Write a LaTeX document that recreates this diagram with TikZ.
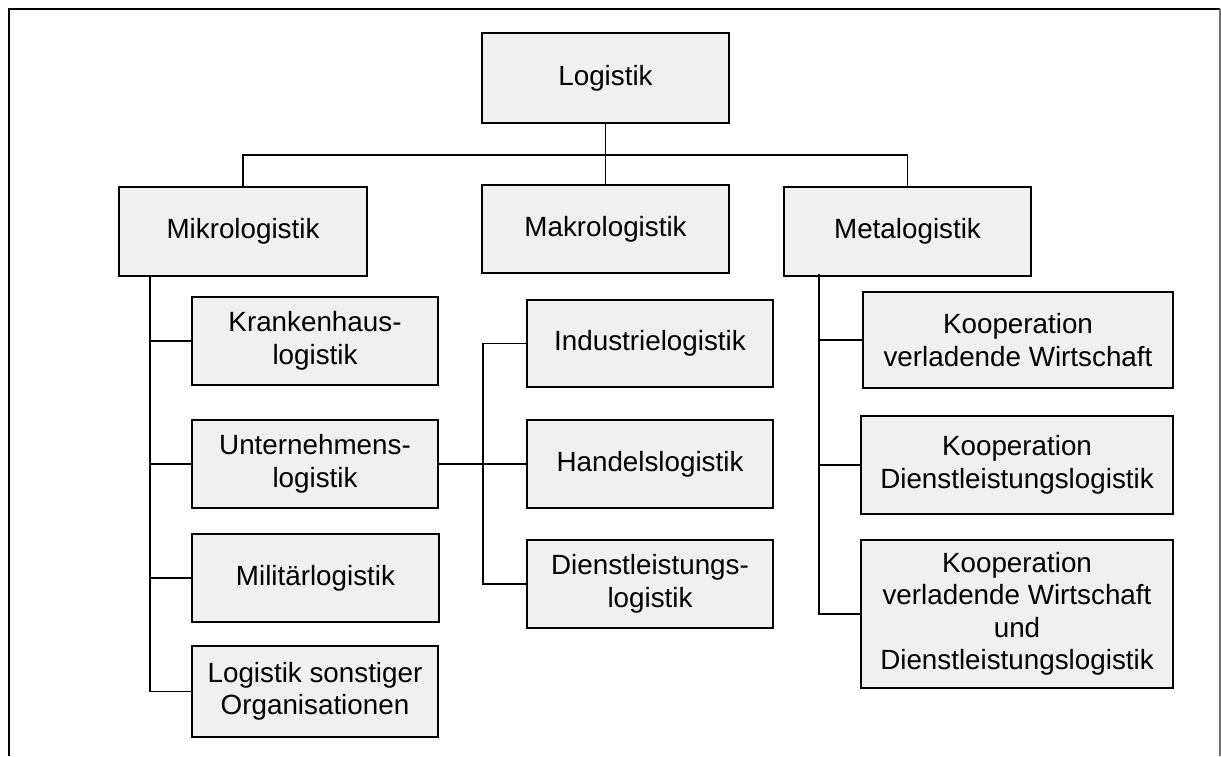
\documentclass[tikz,border=0pt]{standalone}
\usepackage{fontspec}
\setmainfont{Liberation Sans}
\definecolor{boxfill}{RGB}{240,240,240}
\definecolor{frameright}{RGB}{110,110,110}
\tikzset{
  unit/.style={draw=black, fill=boxfill, line width=1.5pt, inner sep=0pt,
    align=center, font=\fontsize{27.8}{32.5}\selectfont},
  link/.style={draw=black, line width=1.4pt}
}
\begin{document}
\begin{tikzpicture}[x=1pt, y=-1pt]
\useasboundingbox (0,0) rectangle (1221,756);

% outer frame
\draw[line width=2.2pt] (9,756) -- (9,9) -- (1220,9);
\draw[frameright, line width=1.2pt] (1220,9) -- (1220,756);

% top level
\node[unit, minimum width=247pt, minimum height=90pt] (log) at (605.5,78) {Logistik};

% second level
\node[unit, minimum width=248pt, minimum height=89pt] (mikro) at (243,231.5) {Mikrologistik};
\node[unit, minimum width=247pt, minimum height=88pt] (makro) at (605.5,229) {Makrologistik};
\node[unit, minimum width=247pt, minimum height=89pt] (meta) at (907.5,231.5) {Metalogistik};

% Mikrologistik branch
\node[unit, minimum width=246pt, minimum height=88pt] (kh) at (315,341) {Krankenhaus-\\logistik};
\node[unit, minimum width=246pt, minimum height=88pt] (unt) at (315,464) {Unternehmens-\\logistik};
\node[unit, minimum width=247pt, minimum height=88pt] (mil) at (315.5,578) {Militärlogistik};
\node[unit, minimum width=246pt, minimum height=91pt] (sonst) at (315,691.5) {Logistik sonstiger\\Organisationen};

% Unternehmenslogistik branch
\node[unit, minimum width=246pt, minimum height=87pt] (ind) at (650,343.5) {Industrielogistik};
\node[unit, minimum width=246pt, minimum height=88pt] (han) at (650,464) {Handelslogistik};
\node[unit, minimum width=246pt, minimum height=88pt] (dien) at (650,584) {Dienstleistungs-\\logistik};

% Metalogistik branch
\node[unit, minimum width=310pt, minimum height=96pt] (kv) at (1018,340) {Kooperation\\verladende Wirtschaft};
\node[unit, minimum width=312pt, minimum height=98pt] (kd) at (1017,465) {Kooperation\\Dienstleistungslogistik};
\node[unit, minimum width=312pt, minimum height=148pt] (kvd) at (1017,614) {Kooperation\\verladende Wirtschaft\\und\\Dienstleistungslogistik};

% connectors: top level to second level
\coordinate (bus) at (605.5,155);
\draw[link] (log.south) -- (bus);
\draw[link] (mikro.north) |- (bus) -| (meta.north);
\draw[link] (bus) -- (makro.north);

% Mikrologistik trunk
\coordinate (mtop) at (150,276);
\draw[link] (mtop) |- (sonst.west);
\foreach \n in {kh,unt,mil} \draw[link] (\n.west) -- (\n.west -| mtop);

% Unternehmenslogistik trunk
\coordinate (utop) at (483,343.5);
\draw[link] (ind.west) -- (utop) |- (dien.west);
\draw[link] (unt.east) -- (han.west);

% Metalogistik trunk
\coordinate (etop) at (819,274);
\draw[link] (etop) |- (kvd.west);
\foreach \n in {kv,kd} \draw[link] (\n.west) -- (\n.west -| etop);
\end{tikzpicture}
\end{document}
